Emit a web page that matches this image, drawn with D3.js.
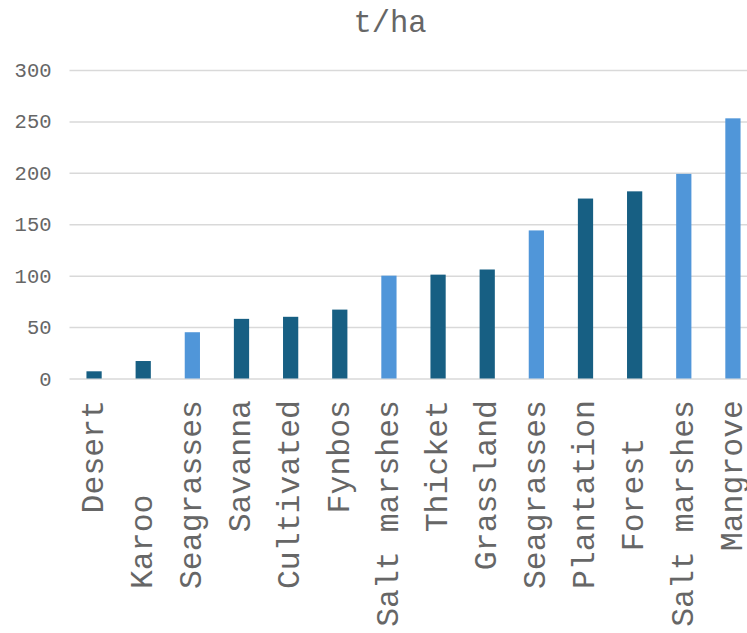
<!DOCTYPE html>
<html>
<head>
<meta charset="utf-8">
<script src="https://cdn.jsdelivr.net/npm/d3@7"></script>
<style>
  html, body { margin: 0; padding: 0; background: #fff; }
  svg { display: block; }
  svg text { font-family: "Courier New", "Nimbus Mono PS", "Nimbus Mono L", FreeMono, "Liberation Mono", monospace; white-space: pre; }
</style>
</head>
<body>
<svg id="chart" width="747" height="633"></svg>
<script>
// Carbon stock per land class (t/ha)
const categories = ["Desert", "Karoo     ", "Seagrasses", "Savanna", "Cultivated", "Fynbos",
  "Salt marshes", "Thicket", "Grassland", "Seagrasses", "Plantation", "Forest  ",
  "Salt marshes", "Mangrove"];
const values = [7, 17, 45, 58, 60, 67, 100, 101, 106, 144, 175, 182, 199, 253];
// Coastal ("blue carbon") ecosystems vs terrestrial
const groups = ["land", "land", "coastal", "land", "land", "land",
  "coastal", "land", "land", "coastal", "land", "land", "coastal", "coastal"];
const yTicks = [0, 50, 100, 150, 200, 250, 300];
const title = "t/ha";

const colors = { land: "#175F83", coastal: "#5096D9" };
const textColor = "#666666";

const svg = d3.select("#chart");
const plotLeft = 69.5, plotRight = 757.5, plotTop = 70, plotBottom = 378.5;

const keys = categories.map((c, i) => i);
const x = d3.scaleBand().domain(keys).range([plotLeft, plotRight]).paddingInner(0.69).paddingOuter(0.345);
const y = d3.scaleLinear().domain([0, 300]).range([plotBottom, plotTop]);

// Title
svg.append("text")
  .attr("x", 390).attr("y", 32)
  .attr("text-anchor", "middle")
  .attr("fill", textColor)
  .style("font-size", "30.5px")
  .text(title);

// Gridlines + y labels
const yAxis = d3.axisLeft(y).tickValues(yTicks).tickSize(-(plotRight - plotLeft)).tickPadding(18);
const gy = svg.append("g").attr("transform", `translate(${plotLeft},0)`).call(yAxis);
gy.attr("font-family", null).attr("font-size", null);
gy.select(".domain").remove();
gy.selectAll(".tick line").attr("stroke", "#d9d9d9").attr("stroke-width", 1.5);
gy.selectAll(".tick text")
  .style("font-size", "20.5px")
  .attr("fill", textColor);

// Bars
svg.append("g").selectAll("rect")
  .data(values)
  .join("rect")
  .attr("x", (d, i) => x(i))
  .attr("width", x.bandwidth())
  .attr("y", d => y(d))
  .attr("height", d => y(0) - y(d))
  .attr("fill", (d, i) => colors[groups[i]]);

// Category labels (rotated, reading upward)
const xAxis = d3.axisBottom(x).tickSize(0).tickFormat(i => categories[i]);
const gx = svg.append("g").attr("transform", `translate(0,${plotBottom})`).call(xAxis);
gx.attr("font-family", null).attr("font-size", null);
gx.select(".domain").remove();
gx.selectAll(".tick text")
  .attr("transform", "rotate(-90)")
  .attr("text-anchor", "end")
  .attr("x", -21.5)
  .attr("y", 0)
  .attr("dy", "0.28em")
  .style("font-size", "31.5px")
  .attr("fill", textColor);
</script>
</body>
</html>
